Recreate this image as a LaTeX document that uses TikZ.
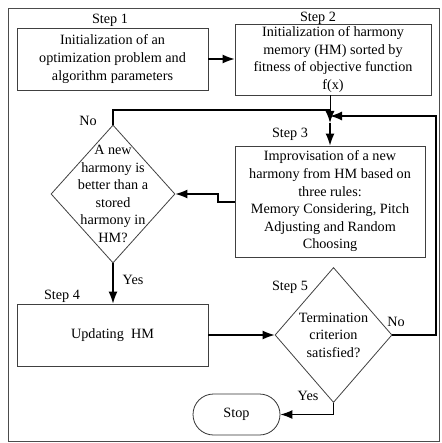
\documentclass[tikz,border=0pt]{standalone}
\usepackage{fontspec}
\setmainfont{Liberation Serif}
\usetikzlibrary{positioning,arrows.meta,shapes.geometric,shapes.misc}
\tikzstyle{block} = [draw=black!75, line width=0.8pt, rectangle,
    align=center, inner sep=0pt]
\tikzstyle{decision} = [draw=black!75, line width=0.8pt, diamond,
    inner sep=0pt]
\tikzstyle{term} = [draw=black!80, line width=0.8pt, rounded rectangle,
    inner sep=0pt]
\tikzstyle{tag} = [inner sep=0pt, align=center]
\tikzstyle{flow} = [line width=1.3pt, ->]

\begin{document}
\begin{tikzpicture}[x=1pt, y=-1pt, >={Latex[length=12pt,width=9pt]},
    font=\fontsize{14.2}{17.6}\selectfont]
\useasboundingbox (0,0) rectangle (441,443);
\draw[draw=black!70, line width=0.8pt] (8,8) rectangle (439,441);

% steps
\node (step1) [block, minimum width=191pt, minimum height=62pt] at (112.5,59)
  {Initialization of an\\optimization problem and\\algorithm parameters};
\node (step2) [block, minimum width=196pt, minimum height=71pt] at (333,59.5)
  {Initialization of harmony\\memory (HM) sorted by\\fitness of objective function\\f(x)};
\node (step3) [block, minimum width=190pt, minimum height=111pt] at (330,201.5)
  {Improvisation of a new\\harmony from HM based on\\three rules:\\Memory Considering, Pitch\\Adjusting and Random\\Choosing};
\node (better) [decision, minimum width=124pt, minimum height=138pt] at (113,194) {};
\node (bettertext) [tag] at (better) {A new\\harmony is\\better than a\\stored\\harmony in\\HM?};
\node (update) [block, minimum width=191pt, minimum height=62pt] at (112.5,335)
  {Updating\ \ HM};
\node (termin) [decision, minimum width=117pt, minimum height=135pt] at (333.5,335) {};
\node (termintext) [tag] at (termin) {Termination\\criterion\\satisfied?};
\node (stop) [term, minimum width=87pt, minimum height=41pt] at (236.5,414.5) {Stop};

% step labels
\node (s1) [tag] at (110,20) {Step 1};
\node (s2) [tag] at (318,18) {Step 2};
\node (s3) [tag] at (290,134) {Step 3};
\node (s4) [tag] at (62,296) {Step 4};
\node (s5) [tag] at (290,287) {Step 5};
\node (no1) [tag] at (88,121) {No};
\node (yes1) [tag] at (133,280) {Yes};
\node (no2) [tag] at (396,322) {No};
\node (yes2) [tag] at (308,396) {Yes};

\coordinate (join) at (330,110);
\coordinate (meet) at (330,123);
\coordinate (back) at (436,116);
\coordinate (jog) at (218,202);

% connectors
\draw[flow] (step1.east) -- (step1.east -| step2.west);
\draw[line width=0.8pt] (join |- step2.south) -- (join);
\draw[flow] (better.north) |- (join) -- (meet);
\draw[flow] (meet) -- (meet |- step3.north);
\draw[flow] (termin.east) -| (back) -- (back -| meet);
\draw[flow] (step3.west |- jog) -- (jog) |- (better.east);
\draw[flow] (better.south) -- (update.north -| better.south);
\draw[flow] (update.east) -- (termin.west);
\draw[flow] (termin.south) |- (stop.east);
\end{tikzpicture}
\end{document}
